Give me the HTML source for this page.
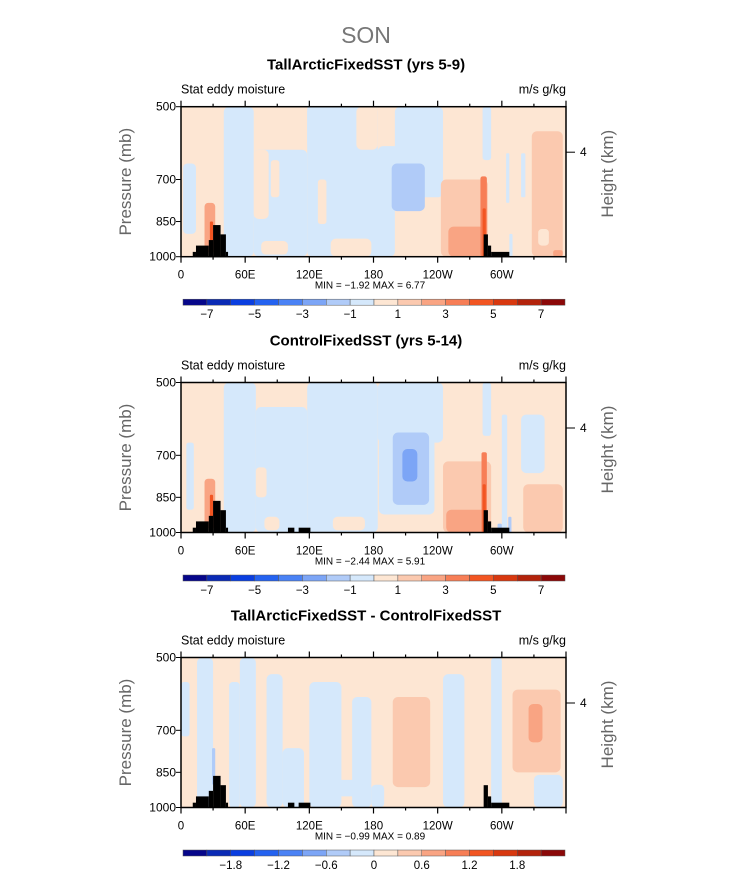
<!DOCTYPE html>
<html><head><meta charset="utf-8"><style>
body{margin:0;background:#fff;}
svg{display:block;font-family:"Liberation Sans",sans-serif;}
</style></head><body>
<svg id="chart" width="733" height="872" viewBox="0 0 733 872">
<text x="366" y="43" text-anchor="middle" font-size="23" fill="#777" font-weight="300">SON</text>
</svg>
<script>
const NS="http://www.w3.org/2000/svg";
const svg=document.getElementById('chart');
const panelTitles=["TallArcticFixedSST (yrs 5-9)","ControlFixedSST (yrs 5-14)","TallArcticFixedSST - ControlFixedSST"];
const panelTops=[106.7,382.5,657.5];
const minMax=[["-1.92","6.77"],["-2.44","5.91"],["-0.99","0.89"]];
const cbLabels1=["-7","-5","-3","-1","1","3","5","7"];
const cbLabels3=["-1.8","-1.2","-0.6","0","0.6","1.2","1.8"];
const cbColors=["#06068a","#0a2ab5","#0a3ee0","#2462f0","#4a82f5","#7ca5f6","#b0cbf8","#d5e8fb","#fde6d3","#fbc9af","#f9a483","#f77e56","#f25522","#d8380f","#b3230b","#8b0808"];
const pTicks=[500,700,850,1000];
const lonTicks=[0,60,120,180,240,300];
const lonLabels=["0","60E","120E","180","120W","60W"];
// blobs: [lon0, lon1, pTop, pBottom, colourIndex]
const fields=[
 [[40,68,500,1000,7],[68,118,610,1000,7],[118,184,500,1000,7],[200,245,500,680,7],[165,200,610,1000,7],[184,245,600,760,7],
  [68,82,610,840,8],[84,92,640,760,8],[140,178,920,1000,8],[75,100,930,990,8],[128,136,700,860,8],[164,184,500,610,8],
  [2,14,650,900,7],[118,124,500,600,7],[130,138,500,570,7],[282,290,500,640,7],[304,307,620,780,7],[318,322,620,760,7],[307,310,900,1000,7],
  [197,228,650,810,6],[243,287,700,1000,9],[250,284,870,1000,10],[22,32,780,980,10],[27,30,850,930,12],[280,286,690,1000,11],[282,285,800,1000,12],
  [328,357,560,1000,9],[334,344,880,950,8],[348,357,970,1000,10]],
 [[40,70,500,1000,7],[70,118,560,1000,7],[118,184,500,1000,7],[184,245,500,660,7],[185,237,600,920,7],
  [70,80,740,850,8],[142,172,930,990,8],[78,92,930,990,8],
  [5,12,660,900,7],[282,290,500,640,7],[318,340,580,760,7],[300,305,580,1000,7],[296,300,960,1000,6],
  [198,232,630,880,6],[207,221,680,790,5],[245,290,720,1000,9],[248,287,900,1000,10],[22,32,780,980,10],[27,30,840,930,12],[281,286,690,1000,11],[282,285,800,1000,12],[306,309,930,1000,6],[320,357,800,1000,9]],
 [[15,30,500,1000,7],[45,55,560,1000,7],[55,70,500,1000,7],[80,95,540,1000,7],[95,115,760,1000,7],[120,150,560,1000,7],[160,178,600,1000,7],[178,190,900,1000,7],[245,265,540,1000,7],[290,300,500,1000,7],[130,170,880,950,7],[330,357,860,1000,7],[0,8,560,720,7],
  [198,233,600,910,9],[310,355,580,850,9],[325,338,620,740,10],[29,32,760,900,6]]
];
// topography: [lon0, lon1, topPressure]
const topoBars=[[11,14,978],[14,26,950],[26,30,926],[30,37,864],[37,42,902],[42,44,978],[283,287,902],[287,290,950],[290,307,978]];
const topoExtra=[[],[[100,106,978],[110,121,978]],[[100,106,978],[110,121,978]]];

const X0=181,X1=566,H=150;
function el(tag,attrs,parent){const e=document.createElementNS(NS,tag);for(const k in attrs)e.setAttribute(k,attrs[k]);(parent||svg).appendChild(e);return e;}
function xs(lon){return X0+lon/360*(X1-X0);}
function ysF(top){return p=>top+Math.log(p/500)/Math.log(2)*H;}

panelTitles.forEach((title,i)=>{
 const top=panelTops[i],ys=ysF(top),bot=top+H;
 const t=el('text',{x:366,y:top-37,'text-anchor':'middle','font-size':15,'font-weight':'bold',fill:'#000'});t.textContent=title;
 
 
 const s1=el('text',{x:181,y:top-13,'font-size':12.5,fill:'#000'});s1.textContent='Stat eddy moisture';
 
 
 const s2=el('text',{x:566,y:top-13,'font-size':12.5,'text-anchor':'end',fill:'#000'});s2.textContent='m/s g/kg';
 
 
 const g=el('g',{});
 
 
 el('rect',{x:X0,y:top,width:X1-X0,height:H,fill:cbColors[8]},g);
 const cp=el('clipPath',{id:'cp'+i},g);el('rect',{x:X0,y:top,width:X1-X0,height:H},cp);
 const fg=el('g',{'clip-path':'url(#cp'+i+')'},g);
 fields[i].forEach(b=>{
  const x=xs(b[0]),w=xs(b[1])-x,y=ys(b[2]),h=ys(b[3])-y;
  const r=el('rect',{x:x,y:y,width:w,height:h,rx:Math.min(w,h,16)/3,fill:cbColors[b[4]]},fg);
  
  
 });
 topoBars.concat(topoExtra[i]).forEach(b=>{
  const r=el('rect',{x:xs(b[0]),y:ys(b[2]),width:xs(b[1])-xs(b[0]),height:bot-ys(b[2]),fill:'#000'},fg);
  
  
 });
 el('rect',{x:X0,y:top,width:X1-X0,height:H,fill:'none',stroke:'#000','stroke-width':1.5},g);
 for(let lon=0;lon<=360;lon+=30){const x=xs(lon),L=lon%60?3:6;
  el('line',{x1:x,x2:x,y1:bot,y2:bot+L,stroke:'#000','stroke-width':1.2});
  el('line',{x1:x,x2:x,y1:top,y2:top-L,stroke:'#000','stroke-width':1.2});}
 lonTicks.forEach((lon,j)=>{const t=el('text',{x:xs(lon),y:bot+22,'text-anchor':'middle','font-size':11.5,fill:'#000'});t.textContent=lonLabels[j];
  
  });
 pTicks.forEach(p=>{const y=ys(p);el('line',{x1:X0-5,x2:X0,y1:y,y2:y,stroke:'#000'});
  const t=el('text',{x:X0-5,y:y+4,'text-anchor':'end','font-size':12,fill:'#000'});t.textContent=p;
  
  });
 const hy=top+45.5;el('line',{x1:X1,x2:X1+9,y1:hy,y2:hy,stroke:'#000'});
 const h4=el('text',{x:580,y:hy+4,'font-size':12,fill:'#000'});h4.textContent='4';
 
 
 const pl=el('text',{x:131,y:top+75,'text-anchor':'middle','font-size':17,fill:'#666',transform:`rotate(-90 131 ${top+75})`});pl.textContent='Pressure (mb)';
 
 
 const hl=el('text',{x:613,y:top+67,'text-anchor':'middle','font-size':17,fill:'#666',transform:`rotate(-90 613 ${top+67})`});hl.textContent='Height (km)';
 
 
 const mm=el('text',{x:370,y:bot+32,'text-anchor':'middle','font-size':10,fill:'#000','xml:space':'preserve'});mm.textContent=`MIN = ${minMax[i][0].replace('-','\u2212')}   MAX = ${minMax[i][1]}`;
 
 
 const cy=bot+42.5,cw=(565-183)/16;
 const cb=el('g',{});
 
 
 cbColors.forEach((c,k)=>el('rect',{x:183+k*cw,y:cy,width:cw,height:6,fill:c,stroke:'#555','stroke-width':0.5},cb));
 const labs=i<2?cbLabels1:cbLabels3,start=i<2?1:2;
 labs.forEach((l,k)=>{const t=el('text',{x:183+(start+2*k)*cw,y:cy+19,'text-anchor':'middle','font-size':11.5,fill:'#000'},cb);t.textContent=l.replace('-','\u2212');
  
  });
});
</script>
</body></html>
